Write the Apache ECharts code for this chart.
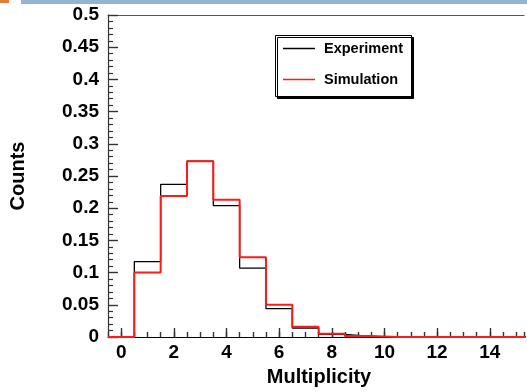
<!DOCTYPE html>
<html>
<head>
<meta charset="utf-8">
<script src="https://cdn.jsdelivr.net/npm/echarts@6/dist/echarts.min.js"></script>
<style>
	html, body { margin: 0; padding: 0; background: #fff; }
	#chart { width: 527px; height: 392px; }
</style>
</head>
<body>
<div id="chart"></div>
<script>
	// 多重数分布 (multiplicity), 每个 bin 宽度为 1
	var bins = [0, 1, 2, 3, 4, 5, 6, 7, 8, 9, 10, 11, 12, 13, 14, 15];
	var experiment = [0, 0.117, 0.237, 0.273, 0.204, 0.107, 0.044, 0.014, 0.004, 0.001, 0, 0, 0, 0, 0, 0];
	var simulation = [0, 0.100, 0.219, 0.273, 0.213, 0.124, 0.050, 0.016, 0.005, 0.0015, 0, 0, 0, 0, 0, 0];
	var xLabels = [0, 2, 4, 6, 8, 10, 12, 14];

	var font = 'Liberation Sans, Arial, sans-serif';

	// bin 左边缘 + 最后的右边缘, step: 'end'
	function toSteps(values) {
		var pts = [];
		for (var i = 0; i < bins.length; i++) {
			pts.push([bins[i] - 0.5, values[i]]);
		}
		pts.push([bins[bins.length - 1] + 0.5, values[values.length - 1]]);
		return pts;
	}

	var chart = echarts.init(document.getElementById('chart'));

	var option = {
		animation: false,
		//网格
		grid: {
			left: 106,
			top: 15,
			right: 0,
			bottom: 52
		},
		//图例
		legend: {
			left: 283,
			top: 41,
			orient: 'vertical',
			icon: 'rect',
			itemWidth: 32,
			itemHeight: 1.5,
			itemGap: 16,
			padding: 0,
			textStyle: {
				color: '#000',
				fontFamily: font,
				fontWeight: 'bold',
				fontSize: 14.5,
				padding: [0, 0, 0, 4]
			},
			data: ['Experiment', 'Simulation']
		},
		//x轴
		xAxis: [
			{
				type: 'value',
				min: -0.5,
				max: 15.3,
				interval: 0.5,
				name: 'Multiplicity',
				nameLocation: 'middle',
				nameGap: 30,
				nameTextStyle: {
					color: '#000',
					fontFamily: font,
					fontWeight: 'bold',
					fontSize: 20,
					padding: [0, 0, 0, 6]
				},
				axisLine: {
					show: true,
					onZero: false,
					lineStyle: { color: '#000', width: 1 }
				},
				axisTick: {
					show: true,
					inside: true,
					length: 5,
					lineStyle: { color: '#333', width: 1.4 }
				},
				axisLabel: {
					formatter: function (v) {
						return xLabels.indexOf(v) >= 0 ? String(v) : '';
					},
					color: '#000',
					fontFamily: font,
					fontWeight: 'bold',
					fontSize: 19,
					margin: 6
				},
				splitLine: { show: false }
			},
			{
				// 上边框
				type: 'value',
				min: -0.5,
				max: 15.3,
				position: 'top',
				axisLine: { show: true, onZero: false, lineStyle: { color: '#555' } },
				axisTick: { show: false },
				axisLabel: { show: false },
				splitLine: { show: false }
			},
			{
				// 主刻度
				type: 'value',
				min: -0.5,
				max: 15.3,
				position: 'bottom',
				axisLine: { show: false, onZero: false },
				axisTick: {
					show: true,
					inside: true,
					length: 9,
					customValues: xLabels,
					lineStyle: { color: '#333', width: 1.4 }
				},
				axisLabel: { show: false },
				splitLine: { show: false }
			}
		],
		//y轴
		yAxis: {
			type: 'value',
			min: 0,
			max: 0.5,
			interval: 0.05,
			name: 'Counts',
			nameLocation: 'middle',
			nameRotate: 90,
			nameGap: 80,
			nameTextStyle: {
				color: '#000',
				fontFamily: font,
				fontWeight: 'bold',
				fontSize: 20
			},
			axisLine: {
				show: true,
				onZero: false,
				lineStyle: { color: '#333', width: 1.2 }
			},
			axisTick: {
				show: true,
				inside: true,
				length: 10,
				lineStyle: { color: '#333', width: 1.4 }
			},
			minorTick: {
				show: true,
				splitNumber: 5,
				length: 5,
				lineStyle: { color: '#333', width: 1.2 }
			},
			axisLabel: {
				color: '#000',
				fontFamily: font,
				fontWeight: 'bold',
				fontSize: 19,
				margin: 9
			},
			splitLine: { show: false }
		},
		//页面装饰 + 图例框
		graphic: [
			{ type: 'rect', shape: { x: 0, y: 0, width: 9, height: 3 }, style: { fill: '#E07B39' } },
			{ type: 'rect', shape: { x: 21, y: 0, width: 506, height: 4 }, style: { fill: '#95B3D3' } },
			{
				type: 'rect',
				z: 1,
				shape: { x: 275.5, y: 35.5, width: 136, height: 61 },
				style: {
					fill: '#fff',
					stroke: '#000',
					lineWidth: 1,
					shadowColor: '#000',
					shadowOffsetX: 2,
					shadowOffsetY: 2
				}
			}
		],
		//系列列表
		series: [
			{
				name: 'Experiment',
				type: 'line',
				step: 'end',
				symbol: 'none',
				z: 3,
				data: toSteps(experiment),
				lineStyle: { color: '#000', width: 1.3 },
				itemStyle: { color: '#000' }
			},
			{
				name: 'Simulation',
				type: 'line',
				step: 'end',
				symbol: 'none',
				z: 4,
				data: toSteps(simulation),
				lineStyle: { color: '#ff1a1a', width: 2 },
				itemStyle: { color: '#ff1a1a' }
			}
		]
	};

	chart.setOption(option);
</script>
</body>
</html>
